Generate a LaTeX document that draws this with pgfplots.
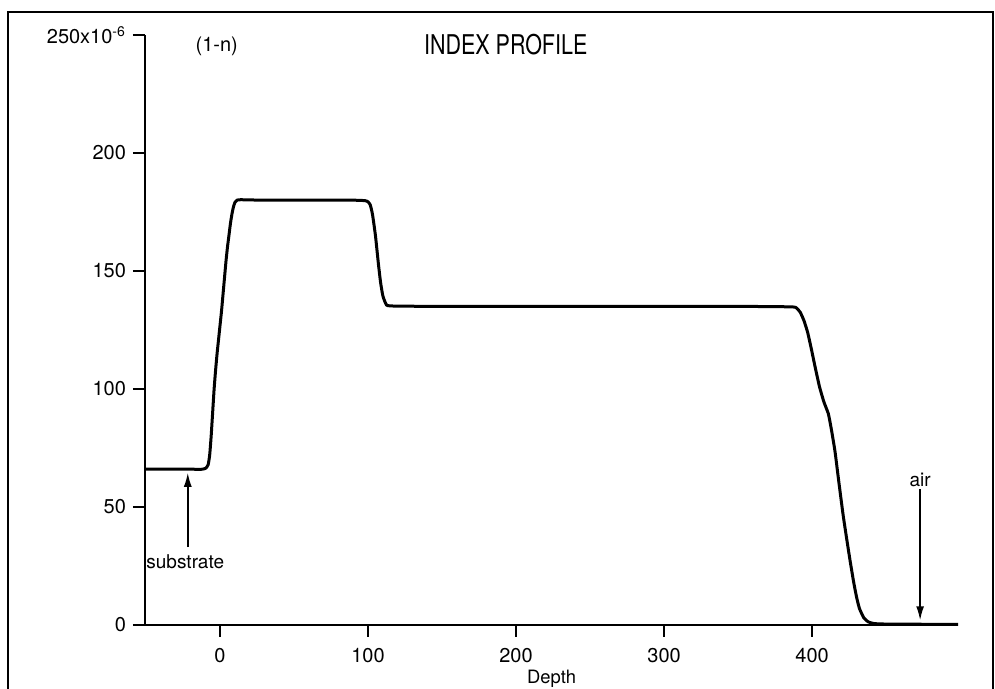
\documentclass[border=0pt]{standalone}
\usepackage{pgfplots}
\pgfplotsset{compat=1.18}
\usepackage{fontspec}
\setmainfont{TeX Gyre Heros}
\usetikzlibrary{arrows.meta}
\begin{document}
\begin{tikzpicture}
\path[use as bounding box] (-72.5pt,-32pt) rectangle (425pt,312.5pt);
\draw[line width=1pt] (-68.5pt,-40pt) -- (-68.5pt,306.5pt) -- (424pt,306.5pt) -- (424pt,-40pt);
\begin{axis}[
  at={(0pt,0pt)}, anchor=south west,
  scale only axis, width=406.5pt, height=295pt,
  xmin=-50.7, xmax=498.6, ymin=0, ymax=250,
  axis x line*=bottom, axis y line*=left,
  axis line style={line width=1.2pt},
  xtick={0,100,200,300,400}, ytick={0,50,100,150,200,250},
  yticklabels={0,50,100,150,200,{250x10\textsuperscript{-6}}},
  tick align=outside, major tick length=6pt,
  tick style={line width=1pt, black},
  /pgf/number format/assume math mode=true,
  ticklabel style={font=\fontsize{10}{12}\selectfont},
  xticklabel style={yshift=-2pt},
  clip=false,
]
\addplot[black, line width=1.5pt, smooth, tension=0.3] coordinates {
(-50.7,66) (-20,66) (-12,66) (-9.5,66.5) (-8,68) (-7,72) (-6,80) (-5,90) (-4,100) (-3,108) (-2,115) (-1,121) (0,127) (1,133) (2,140) (3,147) (4,154) (5,160) (6,165) (7,170) (8,174) (9,177) (10,179) (11.5,180) (14,180.2) (30,180) (60,180) (90,180) (98,179.8) (100,179.3) (101.5,178) (103,174) (105,165) (107,153) (108.5,145) (110,139.5) (112,136.2) (115,135.2) (150,135) (250,135) (350,135) (386,134.8) (389.5,134.3) (392,132.5) (394.5,129) (397,124) (399.5,117) (402,109.5) (405,101) (408,94.5) (411,89.5) (413,83) (415.5,73.5) (418,61) (421,46.5) (424,34) (426,26) (428,18.5) (430,12) (432,7) (435,3) (438,1.3) (442,0.6) (450,0.4) (480,0.3) (498.6,0.3)
};
\draw[line width=0.8pt, -{Latex[length=7pt,width=4pt]}] (axis cs:-21.8,33) -- (axis cs:-21.8,64.5);
\draw[line width=0.8pt, -{Latex[length=7pt,width=4pt]}] (axis cs:473,57.5) -- (axis cs:473,2);
\node[font=\fontsize{9.5}{11}\selectfont] at (axis cs:-23.5,26.7) {substrate};
\node[font=\fontsize{9.5}{11}\selectfont] at (axis cs:473,61.3) {air};
\node[font=\fontsize{10}{12}\selectfont] at (axis cs:-2.2,245.2) {(1-n)};
\node at (axis cs:193,245.8) {\scalebox{0.79}[1]{\fontsize{13.6}{15}\selectfont INDEX PROFILE}};
\node[font=\fontsize{9.2}{11}\selectfont, anchor=base, inner sep=0pt] at (axis cs:224,-25.0) {Depth};
\end{axis}
\end{tikzpicture}
\end{document}
